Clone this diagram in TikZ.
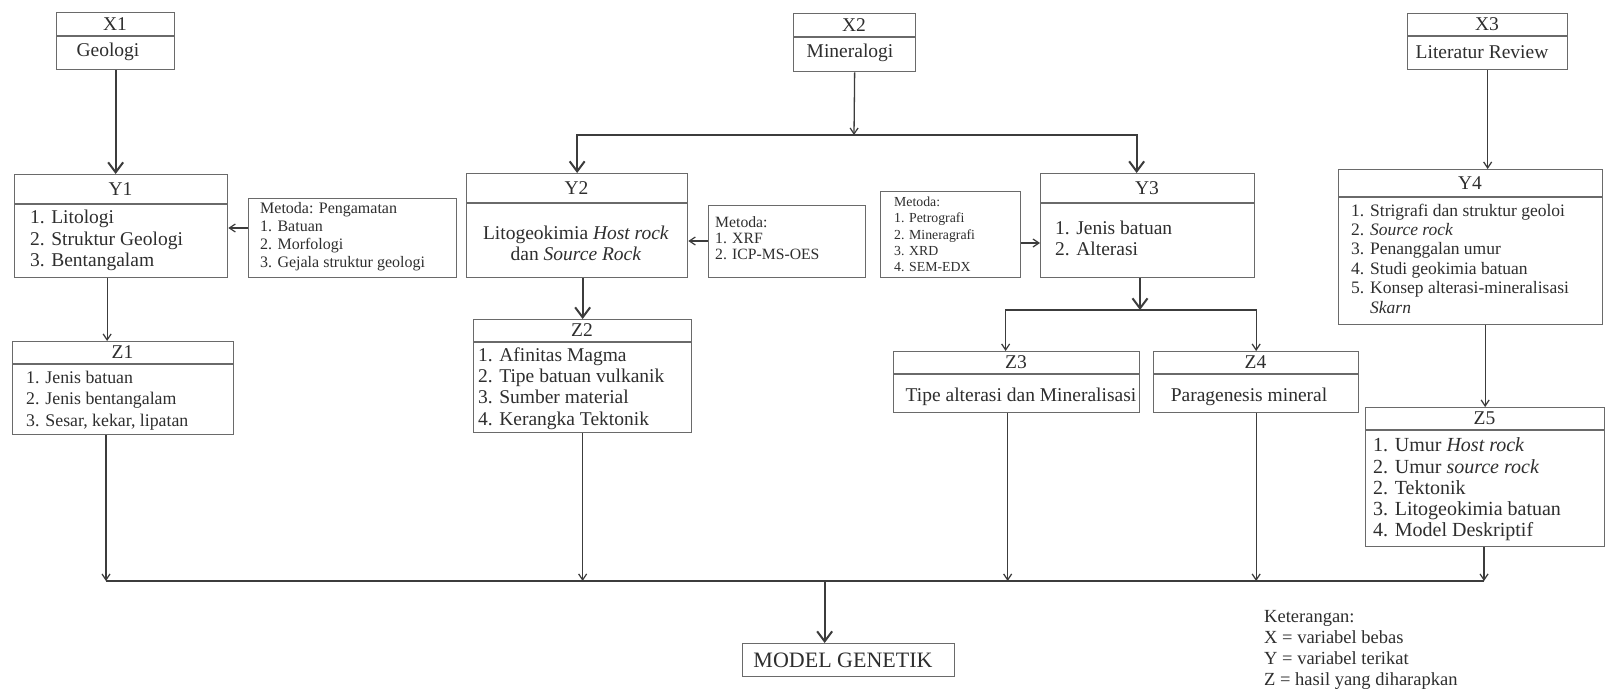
\documentclass[tikz,border=0pt]{standalone}
\usepackage{fontspec}
\setmainfont{Liberation Serif}
\usetikzlibrary{arrows.meta}
\definecolor{ln}{HTML}{3C3C3C}
\definecolor{bx}{HTML}{6A6A6A}
\definecolor{tx}{HTML}{2E2E2E}
\newcommand\mkbox[7]{%
  \node[box, minimum width={(#4-#2)*1pt}, minimum height={(#5-#3)*1pt}] (#1) at (#2,#3) {};
  \draw[bx, line width=1.6pt] (#2,#6) -- (#4,#6);
  \node[ttl] at ({(#2+#4)/2},{(#3+#6)/2}) {#7};
}
\begin{document}
\begin{tikzpicture}[x=1pt,y=-1pt,
  box/.style={draw=bx, line width=1.3pt, inner sep=0pt, anchor=north west, fill=white},
  ttl/.style={text=tx, font=\fontsize{19.5}{21}\selectfont, inner sep=0pt},
  body/.style={text=tx, font=\fontsize{19.5}{21.3}\selectfont, align=left, anchor=west, inner sep=0pt},
  thk/.style={draw=ln, line width=2.2pt},
  thn/.style={draw=ln, line width=1.3pt},
  Big/.tip={Straight Barb[length=10pt,width=15pt,line width=2pt]},
  Sm/.tip={Straight Barb[length=6pt,width=8pt,line width=1.2pt]},
]
\useasboundingbox (0,0) rectangle (1612,691);
\fill[white] (0,0) rectangle (1612,691);

% boxes
\mkbox{X1}{56}{12}{174}{69}{36}{X1}
\mkbox{X2}{793}{13}{915}{71}{37}{X2}
\mkbox{X3}{1407}{13}{1567}{69}{36}{X3}
\mkbox{Y1}{14}{174}{227}{277}{204}{Y1}
\mkbox{Y2}{466}{173}{687}{277}{203}{Y2}
\mkbox{Y3}{1040}{173}{1254}{277}{203}{Y3}
\mkbox{Y4}{1338}{169}{1602}{324}{197}{Y4}
\mkbox{Z1}{12}{341}{233}{434}{364}{Z1}
\mkbox{Z2}{473}{319}{691}{432}{342}{Z2}
\mkbox{Z3}{893}{351}{1139}{412}{374}{Z3}
\mkbox{Z4}{1153}{351}{1358}{412}{374}{Z4}
\mkbox{Z5}{1365}{407}{1604}{546}{430}{Z5}
\node[box, minimum width=208pt, minimum height=79pt] (M1) at (248,198) {};
\node[box, minimum width=157pt, minimum height=72pt] (M2) at (708,205) {};
\node[box, minimum width=140pt, minimum height=86pt] (M3) at (880,191) {};
\node[box, minimum width=212pt, minimum height=33pt] (MG) at (742,643) {};

% box texts
\node[ttl] (tX1) at (108,52) {Geologi};
\node[ttl] (tX2) at (850,53) {Mineralogi};
\node[ttl] (tX3) at (1482,52) {Literatur Review};
\node[body] (tY1) at (30,240.5) {1. Litologi\\2. Struktur Geologi\\3. Bentangalam};
\node[body, align=center, anchor=center] (tY2) at (576,243) {Litogeokimia \textit{Host rock}\\dan \textit{Source Rock}};
\node[body] (tY3) at (1055,238.5) {1. Jenis batuan\\2. Alterasi};
\node[body, font=\fontsize{17.5}{19.4}\selectfont] (tY4) at (1351,258.5) {1. Strigrafi dan struktur geoloi\\2. \textit{Source rock}\\3. Penanggalan umur\\4. Studi geokimia batuan\\5. Konsep alterasi-mineralisasi\\\phantom{5. }\textit{Skarn}};
\node[body, font=\fontsize{17.8}{21.3}\selectfont] (tZ1) at (26,400.5) {1. Jenis batuan\\2. Jenis bentangalam\\3. Sesar, kekar, lipatan};
\node[body] (tZ2) at (478,388.5) {1. Afinitas Magma\\2. Tipe batuan vulkanik\\3. Sumber material\\4. Kerangka Tektonik};
\node[ttl] (tZ3) at (1021,397) {Tipe alterasi dan Mineralisasi};
\node[ttl] (tZ4) at (1249,397) {Paragenesis mineral};
\node[body, font=\fontsize{20}{21.3}\selectfont] (tZ5) at (1373,489.5) {1. Umur \textit{Host rock}\\2. Umur \textit{source rock}\\2. Tektonik\\3. Litogeokimia batuan\\4. Model Deskriptif};
\node[body, font=\fontsize{16}{18}\selectfont] (tM1) at (260,236.5) {Metoda: Pengamatan\\1. Batuan\\2. Morfologi\\3. Gejala struktur geologi};
\node[body, font=\fontsize{15.7}{16.3}\selectfont] (tM2) at (715,238) {Metoda:\\1. XRF\\2. ICP-MS-OES};
\node[body, font=\fontsize{13.8}{16.2}\selectfont] (tM3) at (894,234.5) {Metoda:\\1. Petrografi\\2. Mineragrafi\\3. XRD\\4. SEM-EDX};
\node[ttl, font=\fontsize{22}{24}\selectfont] (tMG) at (843,660) {MODEL GENETIK};
\node[body, font=\fontsize{18.5}{20.8}\selectfont] (leg) at (1264,650) {Keterangan:\\X = variabel bebas\\Y = variabel terikat\\Z = hasil yang diharapkan};

% connectors
\draw[thk, -Big] (X1.south) -- (X1.south |- Y1.north);
\coordinate (b2) at (854,135);
\draw[thn, -Sm] (X2.south) -- (b2);
\draw[thk, -Big] (b2) -| (Y2.north);
\draw[thk, -Big] (b2) -| ([xshift=-11pt]Y3.north);
\draw[thn, -Sm] (X3.south) -- (X3.south |- Y4.north);
\draw[thn, -Sm] (M1.west |- 0,228) -- (Y1.east |- 0,228);
\draw[thn, -Sm] (M2.west |- 0,241) -- (Y2.east |- 0,241);
\draw[thk, -Sm] (M3.east |- 0,243) -- (Y3.west |- 0,243);
\draw[thn, -Sm] ([xshift=-14pt]Y1.south) -- ([xshift=-14pt]Y1.south |- Z1.north);
\draw[thk, -Big] (Z2.north |- Y2.south) -- (Z2.north);
\coordinate (b3) at (1140,310);
\draw[thk, -Big] (b3 |- Y3.south) -- (b3);
\draw[thn, -Sm] (b3) -| ([xshift=-11pt]Z3.north);
\draw[thn, -Sm] (b3) -| (Z4.north);
\draw[thn, -Sm] (Z5.north |- Y4.south) -- (Z5.north);
% bottom bus
\coordinate (busL) at (106,581);
\coordinate (busR) at (1484,581);
\draw[thn] (busL) -- (busR);
\draw[thn, -Sm] (busL |- Z1.south) -- (busL);
\draw[thn, -Sm] (Z2.south) -- (Z2.south |- busL);
\draw[thn, -Sm] ([xshift=-9pt]Z3.south) -- ([xshift=-9pt]Z3.south |- busL);
\draw[thn, -Sm] (Z4.south) -- (Z4.south |- busL);
\draw[thn, -Sm] (busR |- Z5.south) -- (busR);
\draw[thk, -Big] ([xshift=-24pt]MG.north |- busL) -- ([xshift=-24pt]MG.north);
\end{tikzpicture}
\end{document}
